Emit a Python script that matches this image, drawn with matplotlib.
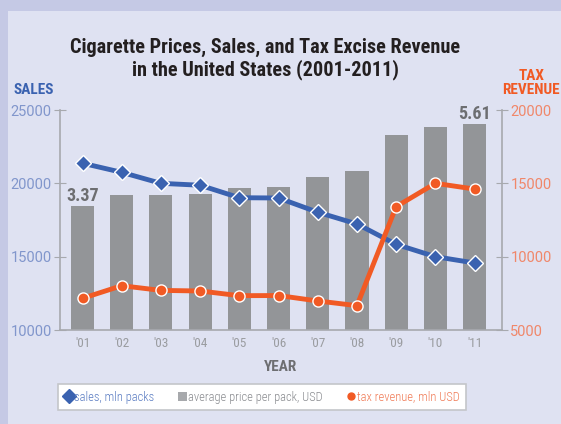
import matplotlib.pyplot as plt
from matplotlib.lines import Line2D
from matplotlib.patches import Rectangle
from matplotlib import font_manager

years = ["'01", "'02", "'03", "'04", "'05", "'06", "'07", "'08", "'09", "'10", "'11"]
price = [3.37, 3.69, 3.69, 3.72, 3.88, 3.91, 4.18, 4.34, 5.33, 5.55, 5.61]
sales = [21370, 20750, 20000, 19870, 19020, 19000, 18030, 17230, 15840, 15000, 14570]
tax = [7160, 8020, 7700, 7660, 7340, 7350, 6980, 6660, 13410, 15000, 14610]

BLUE = '#3a62b0'
ORANGE = '#f15a24'
BARC = '#939598'
BG = '#dfe2f2'
OUTER = '#c5c9e5'
SPINE = '#a7a9ae'

names = {f.name for f in font_manager.fontManager.ttflist}
NARROW = [n for n in ['Roboto Condensed', 'Liberation Sans Narrow', 'Roboto'] if n in names]

plt.rcParams['font.family'] = ['Roboto', 'DejaVu Sans']

fig = plt.figure(figsize=(5.61, 4.24), dpi=100, facecolor=OUTER)
# lighter inner panel
fig.patches.append(Rectangle((8 / 561, 0), 1, 1 - 11 / 424, transform=fig.transFigure,
                             facecolor=BG, edgecolor='none', zorder=-10))

W, H = 561, 424
ax = fig.add_axes([60 / W, 1 - 330 / H, 442 / W, 220 / H])
ax.set_facecolor('none')
x = list(range(len(years)))

# bars (price) on the base axes
ax.bar(x, price, width=0.59, color=BARC, zorder=1)
ax.set_ylim(0, 6.0)
ax.set_xlim(-0.574, 10.70)
ax.set_yticks([])
ax.set_xticks(x)
ax.set_xticklabels(years, color='#9a9ca0', fontsize=9.5, family=NARROW)
ax.tick_params(axis='x', length=0, pad=5)
ax.spines['top'].set_visible(False)
for s in ['left', 'right', 'bottom']:
    ax.spines[s].set_color(SPINE)
    ax.spines[s].set_linewidth(1.2)
ax.text(x[0], price[0] + 0.03, f'{price[0]:.2f}', ha='center', va='bottom',
        fontsize=13, fontweight='bold', color='#6d6e71', family=NARROW)
ax.text(x[-1], price[-1] + 0.03, f'{price[-1]:.2f}', ha='center', va='bottom',
        fontsize=13, fontweight='bold', color='#6d6e71', family=NARROW)
ax.set_xlabel('YEAR', fontsize=11, fontweight='bold', color='#6d6e71', family=NARROW, labelpad=7)

# sales on left axis
ax_s = ax.twinx()
ax_s.yaxis.tick_left()
ax_s.plot(x, sales, color=BLUE, lw=3.5, marker='D', ms=8, mfc=BLUE, mec='white', mew=1, zorder=3)
ax_s.set_ylim(10000, 25000)
ax_s.set_yticks([10000, 15000, 20000, 25000])
ax_s.tick_params(axis='y', direction='inout', length=8, color=SPINE, labelcolor='#8196cc',
                 labelsize=10.5, pad=2)
for s in ax_s.spines.values():
    s.set_visible(False)

# tax revenue on right axis
ax_t = ax.twinx()
ax_t.plot(x, tax, color=ORANGE, lw=3.5, marker='o', ms=8, mfc=ORANGE, mec='white', mew=1, zorder=4)
ax_t.set_ylim(5000, 20000)
ax_t.set_yticks([5000, 10000, 15000, 20000])
ax_t.tick_params(axis='y', direction='inout', length=8, color=SPINE, labelcolor='#f0876a',
                 labelsize=10.5, pad=2)
for s in ax_t.spines.values():
    s.set_visible(False)

fig.text(265 / W, 1 - 59 / H, 'Cigarette Prices, Sales, and Tax Excise Revenue\nin the United States (2001-2011)',
         ha='center', va='center', fontsize=14.6, fontweight='bold', color='#231f20',
         family=NARROW, linespacing=1.15)
fig.text(14 / W, 1 - 90 / H, 'SALES', ha='left', va='center', fontsize=11, fontweight='bold',
         color=BLUE, family=NARROW)
fig.text(560 / W, 1 - 83 / H, 'TAX\nREVENUE', ha='right', va='center', fontsize=11, fontweight='bold',
         color=ORANGE, family=NARROW, multialignment='center', linespacing=1.0)

handles = [
    Line2D([], [], color=BLUE, marker='D', ls='none', ms=7),
    Rectangle((0, 0), 1, 1, facecolor='#a7a9ac'),
    Line2D([], [], color=ORANGE, marker='o', ls='none', ms=5),
]
labels = ['sales, mln packs', 'average price per pack, USD', 'tax revenue, mln USD']
leg = fig.legend(handles, labels, ncol=3, loc='center', bbox_to_anchor=(262 / W, 1 - 397 / H),
                 frameon=True, fancybox=False, edgecolor='#c4c6ca', facecolor='white', framealpha=1,
                 prop={'family': NARROW, 'size': 9, 'weight': 'light'}, handlelength=0.7,
                 handletextpad=0.1, columnspacing=1.9, borderpad=0.5, borderaxespad=0)
leg.get_frame().set_linewidth(1.2)
for t, c in zip(leg.get_texts(), ['#5a7cc2', '#8a8c90', '#f07a55']):
    t.set_color(c)

fig.savefig('out.png', dpi=100, facecolor=OUTER)
